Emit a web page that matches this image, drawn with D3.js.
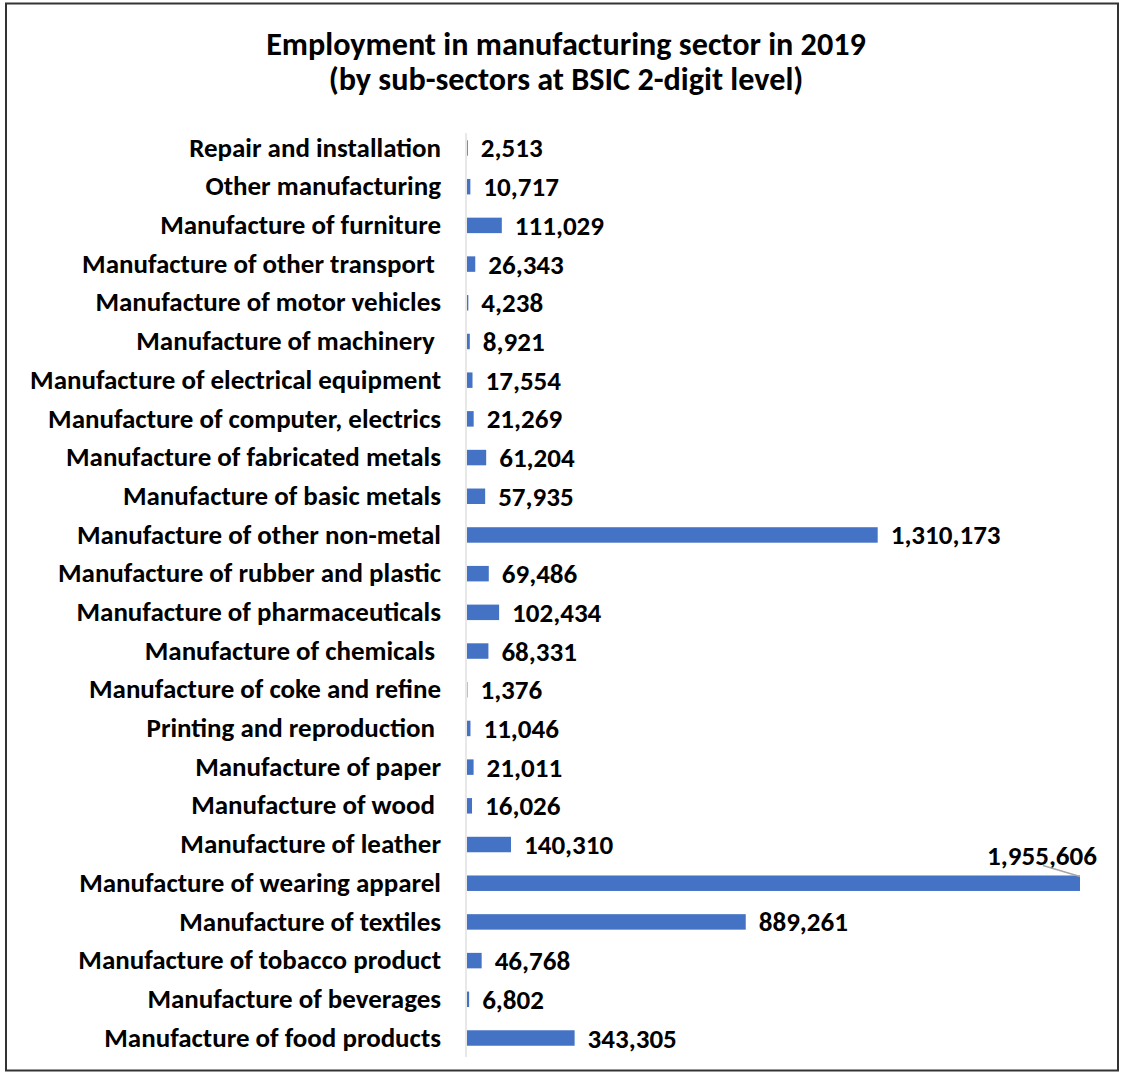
<!DOCTYPE html>
<html>
<head>
<meta charset="utf-8">
<script src="https://cdn.jsdelivr.net/npm/d3@7/dist/d3.min.js"></script>
<style>
  html, body { margin: 0; padding: 0; background: #fff; }
  svg text { font-family: Carlito, Calibri, Lato, "Open Sans", "Liberation Sans", sans-serif; font-weight: bold; fill: #000; white-space: pre; }
</style>
</head>
<body>
<svg id="chart" width="1124" height="1078"></svg>
<script>
// Sub-sectors, listed top to bottom as drawn
const sectors = [
  "Repair and installation",
  "Other manufacturing",
  "Manufacture of furniture",
  "Manufacture of other transport ",
  "Manufacture of motor vehicles",
  "Manufacture of machinery ",
  "Manufacture of electrical equipment",
  "Manufacture of computer, electrics",
  "Manufacture of fabricated metals",
  "Manufacture of basic metals",
  "Manufacture of other non-metal",
  "Manufacture of rubber and plastic",
  "Manufacture of pharmaceuticals",
  "Manufacture of chemicals ",
  "Manufacture of coke and refine",
  "Printing and reproduction ",
  "Manufacture of paper",
  "Manufacture of wood ",
  "Manufacture of leather",
  "Manufacture of wearing apparel",
  "Manufacture of textiles",
  "Manufacture of tobacco product",
  "Manufacture of beverages",
  "Manufacture of food products"
];

// Number employed in 2019
const employment = [
  2513, 10717, 111029, 26343, 4238, 8921, 17554, 21269, 61204, 57935,
  1310173, 69486, 102434, 68331, 1376, 11046, 21011, 16026, 140310,
  1955606, 889261, 46768, 6802, 343305
];

const titleLines = [
  "Employment in manufacturing sector in 2019",
  "(by sub-sectors at BSIC 2-digit level)"
];

const svg = d3.select("#chart");
const fmt = d3.format(",");

// outer frame
svg.append("rect")
  .attr("x", 6).attr("y", 3.5)
  .attr("width", 1112).attr("height", 1067)
  .attr("fill", "none").attr("stroke", "#333").attr("stroke-width", 2);

// font size at which a text spans the given width
function fitFont(text, width, base) {
  const t = svg.append("text").style("font-size", base + "px").text(text);
  const w = t.node().getComputedTextLength();
  t.remove();
  return base * width / w;
}

// two-line title in one text element
const titleSize = fitFont(titleLines[0], 600, 28);
svg.append("text")
  .attr("class", "title")
  .attr("text-anchor", "middle")
  .style("font-size", titleSize + "px")
  .selectAll("tspan").data(titleLines).join("tspan")
  .attr("x", 566)
  .attr("y", (d, i) => 55 + i * 35)
  .text(d => d);

const x0 = 467, x1 = 1080;
const x = d3.scaleLinear().domain([0, d3.max(employment)]).range([x0, x1]);
const y = d3.scaleBand().domain(sectors).range([128.65, 1057.35]).paddingInner(0.6).paddingOuter(0.3);

const labelSize = fitFont("Manufacture of electrical equipment", 411, 20);
const valueSize = fitFont("1,310,173", 110, 20);

// category axis
const yAxis = d3.axisLeft(y).tickSize(0).tickPadding(25);
const ga = svg.append("g").attr("transform", `translate(${x0 - 1},0)`).call(yAxis);
ga.select(".domain").attr("stroke", "#d9d9d9").attr("stroke-width", 1.2)
  .attr("d", "M0,133V1057");
ga.selectAll(".tick text")
  .attr("fill", "#000")
  .style("font-size", labelSize + "px");
ga.attr("font-family", null).attr("font-size", null);

const rows = sectors.map((s, i) => ({ s, v: employment[i] }));

svg.append("g").selectAll("rect").data(rows).join("rect")
  .attr("x", x0)
  .attr("y", d => y(d.s))
  .attr("width", d => x(d.v) - x0)
  .attr("height", y.bandwidth())
  .attr("fill", "#4472C4");

const maxRow = rows.find(d => d.v === d3.max(employment));

// value labels; the largest one sits above its bar's end
svg.append("g").selectAll("text").data(rows).join("text")
  .attr("x", d => d === maxRow ? 1097 : x(d.v) + 13)
  .attr("y", d => d === maxRow ? y(d.s) + y.bandwidth() / 2 - 28 : y(d.s) + y.bandwidth() / 2)
  .attr("text-anchor", d => d === maxRow ? "end" : "start")
  .attr("dominant-baseline", "central")
  .style("font-size", valueSize + "px")
  .text(d => fmt(d.v));

// leader line for the relocated largest label
svg.append("line")
  .attr("x1", x(maxRow.v) - 37).attr("y1", y(maxRow.s) - 10)
  .attr("x2", x(maxRow.v)).attr("y2", y(maxRow.s) + 1)
  .attr("stroke", "#a6a6a6").attr("stroke-width", 1.5);
</script>
</body>
</html>
